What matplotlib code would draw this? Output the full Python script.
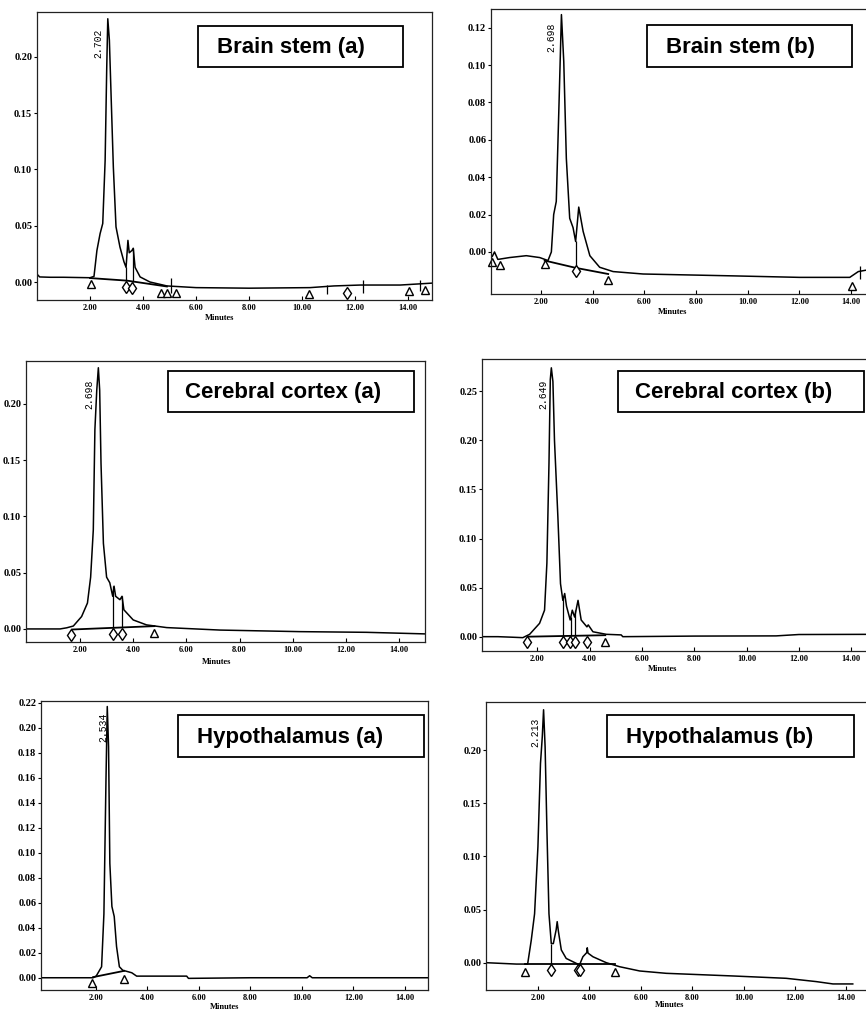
import matplotlib
matplotlib.use("Agg")
import matplotlib.pyplot as plt
from matplotlib.patches import Rectangle

W, H = 866, 1013

# ---------------- Brain stem (a)
bsa_t = [0.0, 0.1, 0.5, 1.0, 1.5, 2.0, 2.15, 2.26, 2.38, 2.48, 2.57, 2.63, 2.67, 2.73, 2.80,
         2.88, 2.98, 3.13, 3.28, 3.36, 3.43, 3.48, 3.58, 3.63, 3.70, 3.89, 4.26, 4.9, 6.0,
         8.0, 10.3, 11.2, 12.2, 13.7, 14.9]
bsa_y = [0.007, 0.0045, 0.0042, 0.0042, 0.004, 0.0038, 0.005, 0.028, 0.043, 0.052, 0.108,
         0.19, 0.234, 0.215, 0.162, 0.102, 0.049, 0.031, 0.018, 0.013, 0.037, 0.026, 0.028,
         0.030, 0.013, 0.0045, 0.0, -0.0035, -0.005, -0.0055, -0.005, -0.0035, -0.0027,
         -0.0027, -0.001]
bsa_base_t = [2.0, 3.4, 4.9]
bsa_base_y = [0.0035, 0.0012, -0.004]
bsa_tri_t = [2.03, 4.68, 4.9, 5.25, 10.27, 14.05, 14.65]
bsa_tri_y = [-0.002, -0.0096, -0.010, -0.010, -0.011, -0.008, -0.007]
bsa_dia_t = [3.36, 3.6, 11.7]
bsa_dia_y = [-0.0047, -0.005, -0.0096]
bsa_drop_t = [3.36, 3.62]
bsa_drop_lo = [0.0005, 0.0]
bsa_drop_hi = [0.013, 0.030]
bsa_tick_t = [5.05, 10.93, 12.3, 14.43]
bsa_tick_lo = [-0.0096, -0.011, -0.0096, -0.0083]
bsa_tick_hi = [0.0036, -0.0023, 0.0015, 0.0016]

# ---------------- Brain stem (b)
bsb_t = [0.06, 0.11, 0.2, 0.33, 0.78, 1.43, 1.95, 2.27, 2.40, 2.49, 2.59, 2.70, 2.79, 2.88,
         2.98, 3.11, 3.24, 3.34, 3.46, 3.63, 3.89, 4.27, 4.79, 5.95, 9.43, 12.0, 13.95,
         14.28, 14.56, 15.1]
bsb_y = [-0.002, -0.0025, 0.0, -0.004, -0.003, -0.002, -0.003, -0.0046, 0.0, 0.020, 0.027,
         0.081, 0.127, 0.102, 0.050, 0.018, 0.013, 0.0056, 0.024, 0.011, -0.002, -0.0082,
         -0.0105, -0.0118, -0.0128, -0.0136, -0.0136, -0.0105, -0.0098, -0.0095]
bsb_base_t = [2.14, 3.34, 4.6]
bsb_base_y = [-0.0046, -0.0085, -0.0118]
bsb_tri_t = [0.12, 0.4, 2.14, 4.6, 14.05]
bsb_tri_y = [-0.0052, -0.007, -0.0066, -0.015, -0.018]
bsb_dia_t = [3.34]
bsb_dia_y = [-0.010]
bsb_drop_t = [3.34]
bsb_drop_lo = [-0.0085]
bsb_drop_hi = [0.0056]
bsb_tick_t = [14.35]
bsb_tick_lo = [-0.0145]
bsb_tick_hi = [-0.0075]

# ---------------- Cerebral cortex (a)
cca_t = [-0.03, 0.5, 1.25, 1.5, 1.75, 2.06, 2.28, 2.40, 2.50, 2.56, 2.63, 2.69, 2.74, 2.79,
         2.88, 3.00, 3.12, 3.23, 3.28, 3.34, 3.50, 3.58, 3.65, 4.00, 4.50, 5.26, 7.26,
         10.27, 12.77, 14.97]
cca_y = [0.0, 0.0, 0.0, 0.001, 0.0026, 0.011, 0.023, 0.046, 0.088, 0.177, 0.212, 0.232,
         0.212, 0.147, 0.076, 0.046, 0.041, 0.029, 0.038, 0.029, 0.026, 0.029, 0.017,
         0.008, 0.0036, 0.0012, -0.001, -0.0024, -0.003, -0.0044]
cca_base_t = [1.7, 4.8]
cca_base_y = [-0.0005, 0.0025]
cca_tri_t = [4.8]
cca_tri_y = [-0.004]
cca_dia_t = [1.66, 3.25, 3.58]
cca_dia_y = [-0.0053, -0.0045, -0.0045]
cca_drop_t = [3.25, 3.58]
cca_drop_lo = [0.0012, 0.0015]
cca_drop_hi = [0.038, 0.029]

# ---------------- Cerebral cortex (b)
ccb_t = [-0.11, 0.5, 1.0, 1.45, 1.71, 2.09, 2.28, 2.37, 2.45, 2.50, 2.54, 2.60, 2.66, 2.79,
         2.89, 2.98, 3.05, 3.12, 3.26, 3.34, 3.43, 3.56, 3.68, 3.90, 3.95, 4.13, 4.64,
         5.21, 5.27, 8.0, 11.13, 12.0, 15.1]
ccb_y = [0.0, 0.0, -0.0005, -0.001, 0.0024, 0.0136, 0.027, 0.075, 0.177, 0.262, 0.274,
         0.260, 0.200, 0.122, 0.054, 0.037, 0.044, 0.031, 0.017, 0.027, 0.020, 0.037,
         0.017, 0.010, 0.012, 0.005, 0.0024, 0.0018, 0.0, 0.0006, 0.0008, 0.0022, 0.0024]
ccb_base_t = [1.65, 4.6]
ccb_base_y = [0.0, 0.0015]
ccb_tri_t = [4.58]
ccb_tri_y = [-0.005]
ccb_dia_t = [1.61, 2.98, 3.27, 3.43, 3.9]
ccb_dia_y = [-0.005, -0.005, -0.005, -0.005, -0.005]
ccb_drop_t = [2.98, 3.28, 3.43]
ccb_drop_lo = [0.001, 0.001, 0.001]
ccb_drop_hi = [0.040, 0.020, 0.027]

# ---------------- Hypothalamus (a)
hya_t = [-0.12, 1.0, 1.9, 2.02, 2.23, 2.32, 2.40, 2.45, 2.50, 2.55, 2.63, 2.72, 2.81, 2.92,
         3.05, 3.40, 3.59, 5.53, 5.60, 8.0, 10.2, 10.3, 10.4, 14.89]
hya_y = [0.0, 0.0, 0.0, 0.0013, 0.0088, 0.051, 0.158, 0.217, 0.185, 0.0915, 0.057, 0.049,
         0.025, 0.0088, 0.006, 0.004, 0.0013, 0.0013, -0.0005, 0.0, 0.0, 0.0016, 0.0, 0.0]
hya_base_t = [1.9, 2.5, 3.1]
hya_base_y = [0.0005, 0.003, 0.0055]
hya_tri_t = [1.84, 3.1]
hya_tri_y = [-0.0045, -0.001]

# ---------------- Hypothalamus (b)
hyb_t = [-0.02, 1.16, 1.60, 1.74, 1.87, 2.00, 2.10, 2.17, 2.22, 2.28, 2.35, 2.43, 2.52,
         2.60, 2.71, 2.75, 2.80, 2.91, 3.10, 3.49, 3.62, 3.75, 3.90, 3.92, 3.95, 4.14,
         4.66, 5.18, 5.96, 6.99, 9.59, 11.66, 12.83, 13.48, 14.25]
hyb_y = [0.0, -0.0013, -0.0013, 0.021, 0.046, 0.109, 0.1875, 0.2126, 0.238, 0.203, 0.125,
         0.046, 0.018, 0.018, 0.031, 0.0386, 0.029, 0.012, 0.004, -0.0006, -0.002, 0.0056,
         0.0095, 0.014, 0.009, 0.0056, 0.0, -0.0038, -0.0078, -0.010, -0.0125, -0.0147,
         -0.0178, -0.020, -0.020]
hyb_base_t = [1.5, 5.0]
hyb_base_y = [-0.0015, -0.0015]
hyb_tri_t = [1.5, 4.98]
hyb_tri_y = [-0.0085, -0.0085]
hyb_dia_t = [2.52, 3.56, 3.65]
hyb_dia_y = [-0.007, -0.007, -0.007]
hyb_drop_t = [2.52, 3.62]
hyb_drop_lo = [-0.0015, -0.0015]
hyb_drop_hi = [0.018, -0.001]

x_ticks = [2, 4, 6, 8, 10, 12, 14]

panels = [
    dict(name="Brain stem (a)", rt="2.702", rt_xy=(2.3, 0.212),
         t=bsa_t, y=bsa_y, bt=bsa_base_t, by=bsa_base_y,
         tri=(bsa_tri_t, bsa_tri_y), dia=(bsa_dia_t, bsa_dia_y),
         drop=(bsa_drop_t, bsa_drop_lo, bsa_drop_hi),
         tick=(bsa_tick_t, bsa_tick_lo, bsa_tick_hi),
         frame=(37, 12, 432, 300), xlim=(0.0, 14.9), ylim=(-0.016, 0.24),
         yticks=[0.0, 0.05, 0.10, 0.15, 0.20],
         box=(198, 26, 403, 67), tx=217, minutes=(220, 318)),
    dict(name="Brain stem (b)", rt="2.698", rt_xy=(2.39, 0.115),
         t=bsb_t, y=bsb_y, bt=bsb_base_t, by=bsb_base_y,
         tri=(bsb_tri_t, bsb_tri_y), dia=(bsb_dia_t, bsb_dia_y),
         drop=(bsb_drop_t, bsb_drop_lo, bsb_drop_hi),
         tick=(bsb_tick_t, bsb_tick_lo, bsb_tick_hi),
         frame=(491, 9, 880, 294), xlim=(0.064, 15.12), ylim=(-0.0225, 0.130),
         yticks=[0.0, 0.02, 0.04, 0.06, 0.08, 0.10, 0.12],
         box=(647, 25, 852, 67), tx=666, minutes=(673, 312)),
    dict(name="Cerebral cortex (a)", rt="2.698", rt_xy=(2.35, 0.208),
         t=cca_t, y=cca_y, bt=cca_base_t, by=cca_base_y,
         tri=(cca_tri_t, cca_tri_y), dia=(cca_dia_t, cca_dia_y),
         drop=(cca_drop_t, cca_drop_lo, cca_drop_hi), tick=None,
         frame=(26, 361, 425, 642), xlim=(-0.03, 14.97), ylim=(-0.0116, 0.238),
         yticks=[0.0, 0.05, 0.10, 0.15, 0.20],
         box=(168, 371, 414, 412), tx=185, minutes=(217, 662)),
    dict(name="Cerebral cortex (b)", rt="2.649", rt_xy=(2.24, 0.247),
         t=ccb_t, y=ccb_y, bt=ccb_base_t, by=ccb_base_y,
         tri=(ccb_tri_t, ccb_tri_y), dia=(ccb_dia_t, ccb_dia_y),
         drop=(ccb_drop_t, ccb_drop_lo, ccb_drop_hi), tick=None,
         frame=(482, 359, 880, 651), xlim=(-0.11, 15.10), ylim=(-0.0146, 0.283),
         yticks=[0.0, 0.05, 0.10, 0.15, 0.20, 0.25],
         box=(618, 371, 864, 412), tx=635, minutes=(663, 669)),
    dict(name="Hypothalamus (a)", rt="2.534", rt_xy=(2.3, 0.200),
         t=hya_t, y=hya_y, bt=hya_base_t, by=hya_base_y,
         tri=(hya_tri_t, hya_tri_y), dia=None, drop=None, tick=None,
         frame=(41, 701, 428, 990), xlim=(-0.12, 14.89), ylim=(-0.0098, 0.2214),
         yticks=[0.0, 0.02, 0.04, 0.06, 0.08, 0.10, 0.12, 0.14, 0.16, 0.18, 0.20, 0.22],
         box=(178, 715, 424, 757), tx=197, minutes=(225, 1007)),
    dict(name="Hypothalamus (b)", rt="2.213", rt_xy=(1.91, 0.217),
         t=hyb_t, y=hyb_y, bt=hyb_base_t, by=hyb_base_y,
         tri=(hyb_tri_t, hyb_tri_y), dia=(hyb_dia_t, hyb_dia_y),
         drop=(hyb_drop_t, hyb_drop_lo, hyb_drop_hi), tick=None,
         frame=(486, 702, 880, 990), xlim=(-0.02, 15.31), ylim=(-0.0257, 0.2453),
         yticks=[0.0, 0.05, 0.10, 0.15, 0.20],
         box=(607, 715, 854, 757), tx=626, minutes=(670, 1005)),
]

fig = plt.figure(figsize=(W / 100, H / 100), dpi=100)
serif = "Liberation Serif"

for p in panels:
    x0, y0, x1, y1 = p["frame"]
    ax = fig.add_axes([x0 / W, 1 - y1 / H, (x1 - x0) / W, (y1 - y0) / H])
    ax.plot(p["t"], p["y"], color="black", lw=1.1)
    ax.plot(p["bt"], p["by"], color="black", lw=1.3)
    if p["drop"]:
        ax.vlines(p["drop"][0], p["drop"][1], p["drop"][2], color="black", lw=0.9)
    if p["tick"]:
        ax.vlines(p["tick"][0], p["tick"][1], p["tick"][2], color="black", lw=0.9)
    ax.plot(p["tri"][0], p["tri"][1], ls="none", marker="^", ms=5.5,
            mfc="white", mec="black", mew=1.0, clip_on=False)
    if p["dia"]:
        ax.plot(p["dia"][0], p["dia"][1], ls="none", marker="d", ms=6,
                mfc="white", mec="black", mew=1.0, clip_on=False)
    ax.text(p["rt_xy"][0], p["rt_xy"][1], p["rt"], rotation=90, ha="center",
            va="center", family="Liberation Mono", fontsize=7)

    ax.set_xlim(*p["xlim"])
    ax.set_ylim(*p["ylim"])
    ax.set_xticks(x_ticks)
    ax.set_xticklabels([f"{v:.2f}" for v in x_ticks], family=serif,
                       fontweight="bold", fontsize=6)
    ax.set_yticks(p["yticks"])
    ax.set_yticklabels([f"{v:.2f}" for v in p["yticks"]], family=serif,
                       fontweight="bold", fontsize=7.5)
    ax.tick_params(axis="x", direction="in", length=3, width=0.8, pad=3)
    ax.tick_params(axis="y", direction="out", length=2.5, width=0.8, pad=1)
    for s in ax.spines.values():
        s.set_linewidth(0.9)
        s.set_color("#222222")

    # "Minutes" sits at a slightly different spot under each panel
    mx, my = p["minutes"]
    ax.set_xlabel("Minutes", family=serif, fontweight="bold", fontsize=6)
    ax.xaxis.set_label_coords((mx - x0) / (x1 - x0), (y1 - my) / (y1 - y0))
    ax.xaxis.label.set_va("center")

    bx0, by0, bx1, by1 = p["box"]
    fig.add_artist(Rectangle((bx0 / W, 1 - by1 / H), (bx1 - bx0) / W, (by1 - by0) / H,
                             transform=fig.transFigure, fc="white", ec="black", lw=1.3))
    fig.text(p["tx"] / W, 1 - ((by0 + by1) / 2 + 1) / H, p["name"], ha="left",
             va="center", family="Liberation Sans", fontweight="bold", fontsize=16)

fig.savefig("out.png", dpi=100)
